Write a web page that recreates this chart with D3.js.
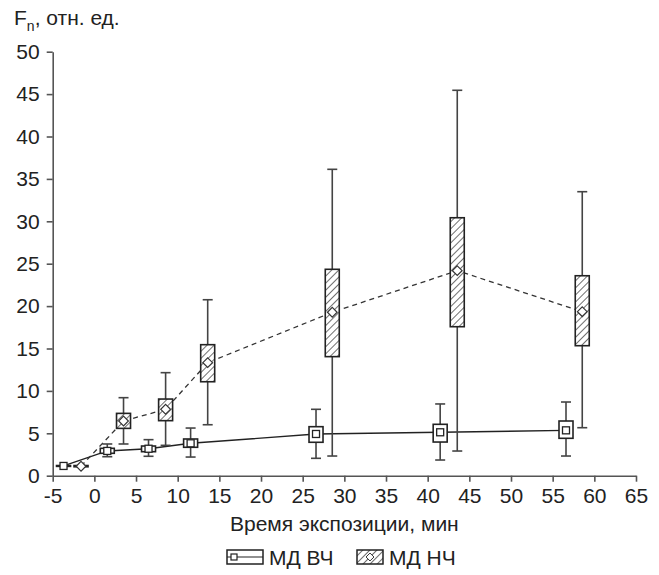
<!DOCTYPE html>
<html>
<head>
<meta charset="utf-8">
<script src="https://cdn.jsdelivr.net/npm/d3@7"></script>
<style>
  body { margin: 0; background: #fff; }
  text { font-family: "Liberation Sans", Arial, sans-serif; fill: #222; }
</style>
</head>
<body>
<div id="chart"></div>
<script>
// МД ВЧ (boxes with square markers, solid line)
const timeHF = [-3.7, 1.55, 6.5, 11.55, 26.6, 41.5, 56.6];
const medHF = [1.15, 2.92, 3.18, 3.82, 4.92, 5.12, 5.35];
const q1HF = [1.1, 2.64, 2.83, 3.35, 3.94, 3.97, 4.41];
const q3HF = [1.2, 3.23, 3.5, 4.33, 5.78, 6.06, 6.45];
const minHF = [1.1, 2.24, 2.29, 2.2, 2.05, 1.85, 2.32];
const maxHF = [1.2, 3.74, 4.25, 5.62, 7.83, 8.46, 8.69];

// МД НЧ (hatched boxes with diamond markers, dashed line)
const timeLF = [-1.6, 3.5, 8.55, 13.6, 28.55, 43.55, 58.55];
const medLF = [1.12, 6.45, 7.83, 13.33, 19.27, 24.18, 19.34];
const q1LF = [1.05, 5.58, 6.49, 11.08, 14.04, 17.57, 15.33];
const q3LF = [1.2, 7.35, 9.04, 15.45, 24.34, 30.42, 23.58];
const minLF = [1.05, 3.74, 3.58, 6.01, 2.32, 2.91, 5.66];
const maxLF = [1.2, 9.2, 12.15, 20.75, 36.13, 45.45, 33.49];

const xTicks = d3.range(-5, 66, 5);
const yTicks = d3.range(0, 51, 5);
const seriesNames = ['МД ВЧ', 'МД НЧ'];

const width = 659, height = 575;
const fontSize = '21px';
const svg = d3.select('#chart').append('svg').attr('width', width).attr('height', height);

const x = d3.scaleLinear().domain([-5, 65]).range([52.7, 636]);
const y = d3.scaleLinear().domain([0, 50]).range([475.7, 51.7]);

// hatch pattern
const defs = svg.append('defs');
const pat = defs.append('pattern')
  .attr('id', 'hatch')
  .attr('patternUnits', 'userSpaceOnUse')
  .attr('width', 5).attr('height', 5)
  .attr('patternTransform', 'rotate(45)');
pat.append('rect').attr('width', 5).attr('height', 5).attr('fill', '#fff');
pat.append('line').attr('x1', 0).attr('y1', 0).attr('x2', 0).attr('y2', 5)
  .attr('stroke', '#222').attr('stroke-width', 1.3);

// axes
const xAxis = svg.append('g').attr('transform', `translate(0,${y(0)})`)
  .call(d3.axisBottom(x).tickValues(xTicks).tickFormat(d => String(d)).tickSize(6).tickSizeOuter(0).tickPadding(6));
const yAxis = svg.append('g').attr('transform', `translate(${x(-5)},0)`)
  .call(d3.axisLeft(y).tickValues(yTicks).tickFormat(d => String(d)).tickSize(6).tickSizeOuter(0).tickPadding(7));
[xAxis, yAxis].forEach(g => {
  g.selectAll('path, line').attr('stroke', '#555').attr('stroke-width', 1.6);
  g.selectAll('text').style('font-size', fontSize).style('font-family', '"Liberation Sans", Arial, sans-serif').attr('fill', '#222');
});

// title
const title = svg.append('text').attr('x', 14).attr('y', 25).style('font-size', fontSize);
title.append('tspan').text('F');
title.append('tspan').attr('dy', 6).style('font-size', '14px').text('n');
title.append('tspan').attr('dy', -6).text(', отн. ед.');

// x label
svg.append('text')
  .attr('x', (x(-5) + x(65)) / 2).attr('y', 531)
  .style('text-anchor', 'middle').style('font-size', fontSize)
  .text('Время экспозиции, мин');

function makeSeries(times, med, q1, q3, mn, mx) {
  return times.map((t, i) => ({ t: t, med: med[i], q1: q1[i], q3: q3[i], min: mn[i], max: mx[i] }));
}
const hf = makeSeries(timeHF, medHF, q1HF, q3HF, minHF, maxHF);
const lf = makeSeries(timeLF, medLF, q1LF, q3LF, minLF, maxLF);

const line = d3.line().x(d => x(d.t)).y(d => y(d.med));

// connecting lines
svg.append('path').datum(hf).attr('d', line)
  .attr('fill', 'none').attr('stroke', '#222').attr('stroke-width', 1.4);
svg.append('path').datum(lf).attr('d', line)
  .attr('fill', 'none').attr('stroke', '#333').attr('stroke-width', 1.3)
  .attr('stroke-dasharray', '5,4');

const boxW = 14, capW = 10;

function drawBoxes(data, fill, cls) {
  const g = svg.append('g').attr('class', cls);
  const items = g.selectAll('g.item').data(data).join('g').attr('class', 'item');
  // whiskers
  items.filter(d => d.max - d.min > 0.2).each(function (d) {
    const s = d3.select(this);
    s.append('line').attr('x1', x(d.t)).attr('x2', x(d.t)).attr('y1', y(d.max)).attr('y2', y(d.min))
      .attr('stroke', '#444').attr('stroke-width', 1.6);
    [d.max, d.min].forEach(v => {
      s.append('line').attr('x1', x(d.t) - capW / 2).attr('x2', x(d.t) + capW / 2)
        .attr('y1', y(v)).attr('y2', y(v)).attr('stroke', '#444').attr('stroke-width', 1.6);
    });
  });
  items.append('rect')
    .attr('x', d => x(d.t) - boxW / 2)
    .attr('width', boxW)
    .attr('y', d => y(d.q3))
    .attr('height', d => Math.max(0.8, y(d.q1) - y(d.q3)))
    .attr('fill', fill)
    .attr('stroke', '#222').attr('stroke-width', 1.6);
  return items;
}

const hfItems = drawBoxes(hf, '#fff', 'hf');
hfItems.append('rect')
  .attr('x', d => x(d.t) - 3.5).attr('y', d => y(d.med) - 3.5)
  .attr('width', 7).attr('height', 7)
  .attr('fill', '#fff').attr('stroke', '#222').attr('stroke-width', 1.3);

const lfItems = drawBoxes(lf, 'url(#hatch)', 'lf');
const diamond = d3.symbol().type(d3.symbolDiamond2).size(60);
lfItems.append('path')
  .attr('transform', d => `translate(${x(d.t)},${y(d.med)})`)
  .attr('d', diamond)
  .attr('fill', '#fff').attr('stroke', '#333').attr('stroke-width', 1.2);

// legend
const leg = svg.append('g');
const ly = 550, lh = 14;
// ВЧ symbol
leg.append('rect').attr('x', 227).attr('y', ly).attr('width', 36).attr('height', lh)
  .attr('fill', '#fff').attr('stroke', '#222').attr('stroke-width', 1.5);
leg.append('line').attr('x1', 227).attr('x2', 263).attr('y1', ly + lh / 2).attr('y2', ly + lh / 2)
  .attr('stroke', '#222').attr('stroke-width', 1.2);
leg.append('rect').attr('x', 231).attr('y', ly + lh / 2 - 3).attr('width', 6).attr('height', 6)
  .attr('fill', '#fff').attr('stroke', '#222').attr('stroke-width', 1.2);
leg.append('text').attr('x', 269).attr('y', ly + lh + 1).style('font-size', fontSize).text(seriesNames[0]);
// НЧ symbol
leg.append('rect').attr('x', 357).attr('y', ly).attr('width', 26).attr('height', lh)
  .attr('fill', 'url(#hatch)').attr('stroke', '#222').attr('stroke-width', 1.5);
leg.append('path').attr('transform', `translate(${370},${ly + lh / 2})`).attr('d', d3.symbol().type(d3.symbolDiamond2).size(40))
  .attr('fill', '#fff').attr('stroke', '#333').attr('stroke-width', 1);
leg.append('text').attr('x', 389).attr('y', ly + lh + 1).style('font-size', fontSize).text(seriesNames[1]);
</script>
</body>
</html>
